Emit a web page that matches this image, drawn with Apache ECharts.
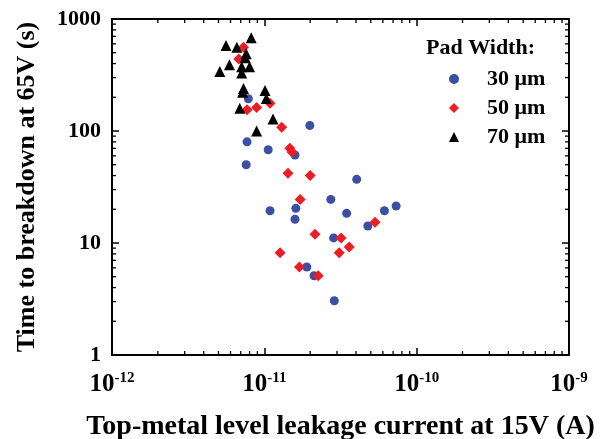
<!DOCTYPE html>
<html>
<head>
<meta charset="utf-8">
<script src="https://cdn.jsdelivr.net/npm/echarts@6/dist/echarts.min.js"></script>
<style>html,body{margin:0;padding:0;background:#fff}#c{width:602px;height:439px}</style>
</head>
<body>
<div id="c"></div>
<script>
// Data (x: leakage current [A], y: time to breakdown [s])
const pad30 = [[7.85e-12,194],[7.7e-12,80],[7.6e-12,50],[1.06e-11,68],[1.09e-11,19.4],[1.59e-11,61],[1.61e-11,20.4],[1.59e-11,16.3],[1.99e-11,112],[2.73e-11,24.5],[2.85e-11,11.1],[3.47e-11,18.4],[4.04e-11,37],[4.78e-11,14.2],[6.14e-11,19.4],[7.33e-11,21.4],[1.9e-11,6.1],[2.12e-11,5.1],[2.88e-11,3.05]];
const pad50 = [[7.3e-12,560],[6.8e-12,440],[7.7e-12,155],[8.9e-12,162],[1.09e-11,177],[1.3e-11,108],[1.47e-11,70],[1.52e-11,65],[1.43e-11,42],[2.0e-11,40],[1.72e-11,24.5],[2.15e-11,12],[3.19e-11,11.1],[3.61e-11,9.2],[3.1e-11,8.2],[5.33e-11,15.3],[1.27e-11,8.2],[1.7e-11,6.1],[2.26e-11,5.1]];
const pad70 = [[8.2e-12,680],[5.6e-12,580],[6.6e-12,560],[7.6e-12,490],[7.5e-12,450],[5.9e-12,390],[5.1e-12,340],[7.1e-12,375],[8.0e-12,375],[7.1e-12,330],[7.3e-12,240],[7.2e-12,222],[1.01e-11,230],[1.03e-11,195],[6.9e-12,160],[1.14e-11,128],[8.9e-12,100]];
const seriesNames = ['30 \u03bcm','50 \u03bcm','70 \u03bcm'];
const xMin = 1e-12, xMax = 1e-9, yMin = 1, yMax = 1000;
const minorMultipliers = [2,3,4,5,6,7,8,9];
const xDecades = [1e-12,1e-11,1e-10];
const yDecades = [1,10,100];

const FONT = '"Liberation Serif","Times New Roman",serif';
const chart = echarts.init(document.getElementById('c'), null, {renderer:'canvas'});

const axisCommon = {
  type:'log', logBase:10,
  axisLine:{show:true, onZero:false, lineStyle:{color:'#000', width:2}},
  axisTick:{show:true, inside:true, length:7, lineStyle:{color:'#000', width:1.5}},
  splitLine:{show:false}
};

function minorTicks(params, api){
  const lb = api.coord([xMin, yMin]);
  const rt = api.coord([xMax, yMax]);
  const L = lb[0], B = lb[1], R = rt[0], T = rt[1];
  const len = 4;
  const ch = [];
  const st = {stroke:'#000', lineWidth:1.3};
  xDecades.forEach(d => minorMultipliers.forEach(m => {
    const x = api.coord([d*m, yMin])[0];
    ch.push({type:'line', shape:{x1:x,y1:B,x2:x,y2:B-len}, style:st});
    ch.push({type:'line', shape:{x1:x,y1:T,x2:x,y2:T+len}, style:st});
  }));
  yDecades.forEach(d => minorMultipliers.forEach(m => {
    const y = api.coord([xMin, d*m])[1];
    ch.push({type:'line', shape:{x1:L,y1:y,x2:L+len,y2:y}, style:st});
    ch.push({type:'line', shape:{x1:R,y1:y,x2:R-len,y2:y}, style:st});
  }));
  return {type:'group', children:ch};
}

chart.setOption({
  animation:false,
  backgroundColor:'#fff',
  grid:{left:112, right:33, top:19, bottom:84, containLabel:false, outerBoundsMode:'none'},
  xAxis:[
    Object.assign({}, axisCommon, {
      position:'bottom', min:xMin, max:xMax,
      name:'Top-metal level leakage current at 15V (A)', nameLocation:'middle', nameGap:58,
      nameTextStyle:{fontFamily:FONT, fontWeight:'bold', fontSize:28, color:'#000'},
      axisLabel:{show:true, margin:16, color:'#000',
        formatter: v => '{b|10}{s|' + Math.round(Math.log10(v)) + '}',
        rich:{b:{fontFamily:FONT, fontWeight:'bold', fontSize:25, color:'#000'},
              s:{fontFamily:FONT, fontWeight:'bold', fontSize:15, color:'#000', padding:[0,0,12,0]}}}
    }),
    Object.assign({}, axisCommon, {position:'top', min:xMin, max:xMax, axisLabel:{show:false}})
  ],
  yAxis:[
    Object.assign({}, axisCommon, {
      position:'left', min:yMin, max:yMax,
      name:'Time to breakdown at 65V (s)', nameLocation:'middle', nameGap:72,
      nameTextStyle:{fontFamily:FONT, fontWeight:'bold', fontSize:26, color:'#000'},
      axisLabel:{show:true, margin:11, color:'#000', fontFamily:FONT, fontWeight:'bold', fontSize:22,
        formatter: v => String(Math.round(v))}
    }),
    Object.assign({}, axisCommon, {position:'right', min:yMin, max:yMax, axisLabel:{show:false}})
  ],
  legend:{
    orient:'vertical', left:444, top:63, itemWidth:10, itemHeight:10, itemGap:7,
    data:[{name:seriesNames[0], icon:'circle'},{name:seriesNames[1], icon:'diamond'},{name:seriesNames[2], icon:'triangle'}],
    textStyle:{fontFamily:FONT, fontWeight:'bold', fontSize:22, color:'#000', lineHeight:22, padding:[0,0,0,23]},
    selectedMode:false
  },
  graphic:[{type:'text', left:426, top:37, style:{text:'Pad Width:', font:'bold 22px ' + FONT, fill:'#000'}}],
  series:[
    {type:'custom', silent:true, clip:false, xAxisIndex:0, yAxisIndex:0, data:[[1e-11,10]], renderItem:minorTicks, z:10},
    {name:seriesNames[0], type:'scatter', symbol:'circle', symbolSize:9, data:pad30, itemStyle:{color:'#3c4fa3', opacity:1}},
    {name:seriesNames[1], type:'scatter', symbol:'diamond', symbolSize:11, data:pad50, itemStyle:{color:'#ee1c24', opacity:1}},
    {name:seriesNames[2], type:'scatter', symbol:'triangle', symbolSize:11, data:pad70, itemStyle:{color:'#000', opacity:1}}
  ]
});
</script>
</body>
</html>
